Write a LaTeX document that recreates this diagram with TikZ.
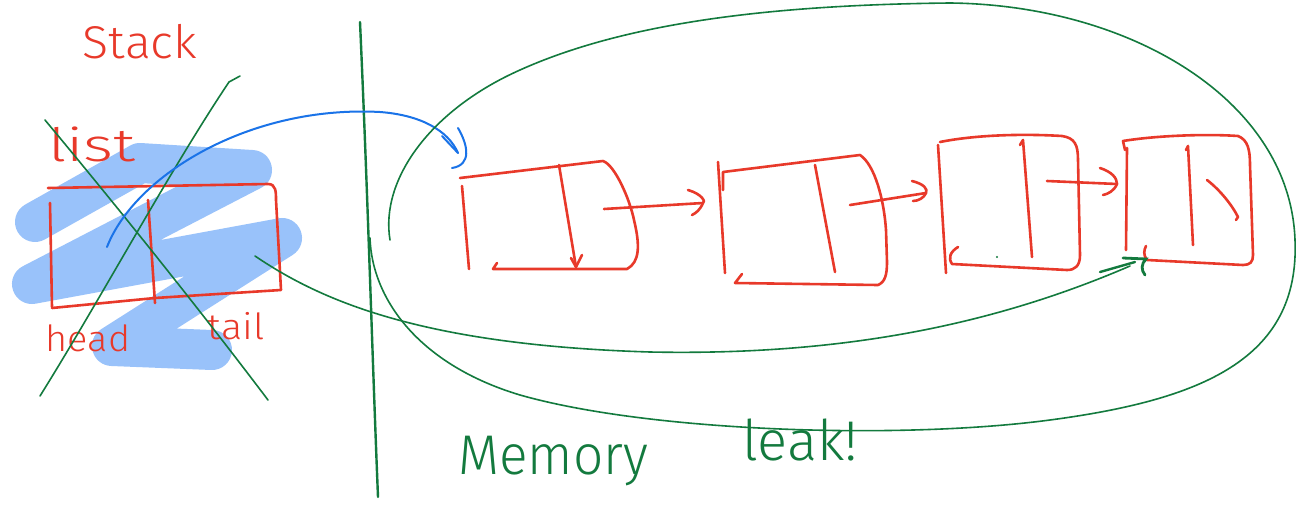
\documentclass[tikz,border=0pt]{standalone}
\usepackage{fontspec}
\setmainfont{Fira Sans Light}
\usetikzlibrary{arrows.meta}
\definecolor{inkred}{HTML}{E8392A}
\definecolor{inkgreen}{HTML}{137A3E}
\definecolor{inkblue}{HTML}{1A73E8}
\definecolor{scrib}{HTML}{99C2FA}
\begin{document}
\begin{tikzpicture}[x=1pt,y=-1pt,
  redink/.style={draw=inkred,line width=2.6pt,line cap=round,line join=round},
  greenink/.style={draw=inkgreen,line width=1.6pt,line cap=round,line join=round},
  blueink/.style={draw=inkblue,line width=2pt,line cap=round,line join=round},
  redtxt/.style={inner sep=0pt,text=inkred},
  greentxt/.style={inner sep=0pt,text=inkgreen}]
\useasboundingbox[fill=white] (0,0) rectangle (1306,514);

% blue scribble
\draw[scrib,line width=40pt,line cap=round,line join=round]
  (35,222) -- (140,163) -- (252,170) -- (32,284) -- (282,238) -- (112,346) -- (212,350);

% stack struct box
\draw[redink] (48,188) -- (268,184) .. controls (276,184) and (276,192) .. (276,200)
  -- (281,290) -- (155,298) -- (52,308);
\draw[redink] (50,203) -- (52,307);
\draw[redink] (148,200) -- (155,303);

% labels
\node[redtxt,font=\fontsize{46}{46}\selectfont,xscale=1.05] (stacklbl) at (140,42) {Stack};
\node[redtxt,font=\fontsize{46}{46}\selectfont,xscale=1.4] (listlbl) at (92,144) {list};
\node[redtxt,font=\fontsize{36}{36}\selectfont,xscale=1.05] (headlbl) at (88,338) {head};
\node[redtxt,font=\fontsize{36}{36}\selectfont,xscale=1.1] (taillbl) at (236,326) {tail};

% crossing-out lines
\draw[greenink] (45,120) .. controls (120,210) and (200,310) .. (268,400);
\draw[greenink] (40,396) .. controls (100,300) and (170,170) .. (229,82) -- (240,76);

% separator
\draw[inkgreen,line width=2.4pt,line cap=round] (360,22) .. controls (368,200) and (372,350) .. (378,497);

% blue pointer from list to first node
\coordinate (src) at (107,247);
\coordinate (dst) at (458,153);
\draw[blueink] (src) .. controls (135,175) and (250,105) .. (380,112)
  .. controls (420,115) and (448,130) .. (dst);
\draw[blueink] (442,136) -- (dst);
\draw[blueink] (458,128) .. controls (468,145) and (472,165) .. (452,168);

% big loop
\draw[greenink] (390,240) .. controls (380,180) and (430,110) .. (520,70)
  .. controls (620,25) and (760,5) .. (950,3)
  .. controls (1130,5) and (1290,100) .. (1295,240)
  .. controls (1300,360) and (1200,400) .. (1050,420)
  .. controls (900,440) and (650,432) .. (520,395)
  .. controls (420,365) and (372,300) .. (370,238);

% node 1
\draw[redink] (460,178) -- (603,161) .. controls (615,165) and (630,200) .. (634,220)
  .. controls (640,245) and (640,262) .. (627,269) -- (493,269) -- (497,263);
\draw[redink] (462,186) -- (469,269);
\draw[redink] (559,165) -- (576,267);
\draw[redink] (571,258) -- (576,267) -- (582,255);

% node 2
\draw[redink] (718,162) -- (725,273);
\draw[redink] (723,190) -- (723,172) -- (860,155) .. controls (875,165) and (884,200) .. (886,230)
  -- (887,262) .. controls (887,275) and (885,282) .. (878,285) -- (735,283) -- (742,274);
\draw[redink] (815,165) -- (835,272);

% node 3
\draw[redink] (938,145) -- (946,273);
\draw[redink] (940,142) .. controls (980,134) and (1030,134) .. (1062,136)
  .. controls (1075,138) and (1078,145) .. (1078,160) -- (1080,255)
  .. controls (1080,266) and (1075,270) .. (1067,270) -- (952,264) .. controls (948,258) and (950,252) .. (958,247);
\draw[redink] (1020,145) -- (1023,140) -- (1032,257);
\fill[inkgreen] (997,257) circle (1.2pt);

% node 4
\draw[redink] (1127,148) -- (1126,250);
\draw[redink] (1125,150) -- (1123,141) .. controls (1160,135) and (1210,134) .. (1238,136)
  .. controls (1248,140) and (1250,150) .. (1250,165) -- (1253,255)
  .. controls (1253,262) and (1250,265) .. (1243,265) -- (1147,260) .. controls (1143,255) and (1144,250) .. (1146,246);
\draw[redink] (1186,150) -- (1188,146) -- (1193,245);
\draw[redink] (1207,180) .. controls (1220,190) and (1232,205) .. (1238,217) -- (1236,220);

% next pointers
\coordinate (p1) at (604,209);
\coordinate (h2) at (703,203);
\draw[redink] (p1) -- (h2);
\draw[redink] (688,190) .. controls (702,194) and (706,202) .. (h2) .. controls (700,210) and (696,213) .. (692,215);
\coordinate (p2) at (850,205);
\coordinate (h3) at (926,193);
\draw[redink] (p2) -- (h3);
\draw[redink] (912,181) .. controls (924,184) and (928,189) .. (h3) .. controls (924,198) and (918,201) .. (913,201);
\coordinate (p3) at (1047,181);
\coordinate (h4) at (1117,184);
\draw[redink] (p3) -- (h4);
\draw[redink] (1100,168) .. controls (1112,172) and (1117,178) .. (h4) .. controls (1114,191) and (1108,194) .. (1103,195);

% tail pointer from stack struct to last node
\coordinate (tsrc) at (255,256);
\coordinate (tdst) at (1146,259);
\draw[greenink] (tsrc) .. controls (320,300) and (420,345) .. (650,352)
  .. controls (850,356) and (1000,322) .. (1130,266);
\draw[inkgreen,line width=2.8pt,line cap=round] (1123,258) -- (tdst) .. controls (1141,264) and (1141,270) .. (1145,275);
\draw[inkgreen,line width=2.4pt,line cap=round] (1100,272) -- (1135,262);

% memory leak text
\node[greentxt,font=\fontsize{56}{56}\selectfont,xscale=0.95,anchor=base west] (memlbl) at (458,474) {Memory};
\node[greentxt,font=\fontsize{56}{56}\selectfont,xscale=1.0,anchor=base west] (leaklbl) at (742,460) {leak!};
\end{tikzpicture}
\end{document}
